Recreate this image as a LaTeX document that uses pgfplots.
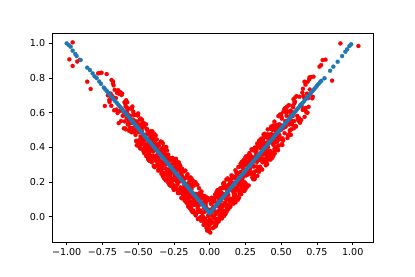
\documentclass[border=0pt]{standalone}
\usepackage{pgfplots}
\pgfplotsset{compat=1.18}
\usepackage{fontspec}
\setmainfont{DejaVu Sans}
\definecolor{mplblue}{HTML}{1F77B4}
\begin{document}
\begin{tikzpicture}
\path[use as bounding box] (-52bp,-35bp) rectangle (363bp,242bp);
\begin{axis}[
  at={(0,0)}, anchor=south west,
  scale only axis, width=321bp, height=209bp,
  xmin=-1.1025, xmax=1.142, ymin=-0.146, ymax=1.06,
  axis line style={line width=0.77bp, black},
  tick style={line width=0.77bp, black},
  tick align=outside, tick pos=left,
  major tick length=3.36bp,
  xtick={-1,-0.75,-0.5,-0.25,0,0.25,0.5,0.75,1},
  xticklabels={−1.00,−0.75,−0.50,−0.25,0.00,0.25,0.50,0.75,1.00},
  ytick={0,0.2,0.4,0.6,0.8,1.0},
  yticklabels={0.0,0.2,0.4,0.6,0.8,1.0},
  every tick label/.append style={font=\fontsize{9.6}{11}\selectfont},
]
\addplot[only marks, mark=*, mark size=2.05bp, red, mark options={line width=0.2bp}] coordinates {
(-0.700,0.662) (-0.696,0.678) (-0.692,0.710) (-0.688,0.640) (-0.684,0.690) (-0.680,0.696) (-0.676,0.770) (-0.672,0.758) (-0.668,0.614) (-0.664,0.732) (-0.660,0.684) (-0.656,0.684) (-0.652,0.618) (-0.648,0.714) (-0.644,0.598) (-0.640,0.730) (-0.636,0.540) (-0.632,0.708) (-0.628,0.610) (-0.624,0.718) (-0.620,0.552) (-0.616,0.702) (-0.612,0.710) (-0.608,0.582) (-0.604,0.606) (-0.600,0.510) (-0.596,0.660) (-0.592,0.510) (-0.588,0.636) (-0.584,0.672) (-0.580,0.570) (-0.576,0.660) (-0.572,0.532) (-0.568,0.624) (-0.564,0.496) (-0.560,0.540) (-0.556,0.580) (-0.552,0.624) (-0.548,0.488) (-0.544,0.622) (-0.540,0.636) (-0.536,0.560) (-0.532,0.592) (-0.528,0.496) (-0.524,0.588) (-0.520,0.526) (-0.516,0.500) (-0.512,0.434) (-0.508,0.548) (-0.504,0.538) (-0.500,0.596)
(-0.4975,0.4395) (-0.495,0.491) (-0.4925,0.4085) (-0.490,0.520) (-0.4875,0.4135) (-0.485,0.441) (-0.4825,0.4285) (-0.480,0.392) (-0.4775,0.5055) (-0.475,0.515) (-0.4725,0.5585) (-0.470,0.538) (-0.4675,0.4595) (-0.465,0.383) (-0.4625,0.4725) (-0.460,0.370) (-0.4575,0.5215) (-0.455,0.401) (-0.4525,0.3865) (-0.450,0.400) (-0.4475,0.4175) (-0.445,0.533) (-0.4425,0.3585) (-0.440,0.364) (-0.4375,0.5055) (-0.435,0.497) (-0.4325,0.3545) (-0.430,0.478) (-0.4275,0.4275) (-0.425,0.381) (-0.4225,0.4045) (-0.420,0.324) (-0.4175,0.4575) (-0.415,0.353) (-0.4125,0.3885) (-0.410,0.414) (-0.4075,0.3295) (-0.405,0.315) (-0.4025,0.4125) (-0.400,0.492) (-0.3975,0.3855) (-0.395,0.419) (-0.3925,0.3505) (-0.390,0.386) (-0.3875,0.4775) (-0.385,0.383) (-0.3825,0.2885) (-0.380,0.442) (-0.3775,0.4695)
(-0.375,0.413) (-0.3725,0.3905) (-0.370,0.352) (-0.3675,0.4155) (-0.365,0.359) (-0.3625,0.3465) (-0.360,0.266) (-0.3575,0.2715) (-0.355,0.409) (-0.3525,0.2845) (-0.350,0.326) (-0.3475,0.3195) (-0.345,0.379) (-0.3425,0.2765) (-0.340,0.386) (-0.3375,0.2475) (-0.335,0.431) (-0.3325,0.2565) (-0.330,0.348) (-0.3275,0.2335) (-0.325,0.393) (-0.3225,0.2365) (-0.320,0.222) (-0.3175,0.3435) (-0.315,0.313) (-0.3125,0.4025) (-0.310,0.246) (-0.3075,0.3895) (-0.305,0.257) (-0.3025,0.2145) (-0.300,0.310) (-0.2975,0.2135) (-0.295,0.335) (-0.2925,0.2365) (-0.290,0.358) (-0.2875,0.3075) (-0.285,0.261) (-0.2825,0.2105) (-0.280,0.340) (-0.2775,0.1995) (-0.275,0.179) (-0.2725,0.2485) (-0.270,0.210) (-0.2675,0.2995) (-0.265,0.201) (-0.2625,0.2565) (-0.260,0.276) (-0.2575,0.3355) (-0.255,0.215) (-0.2525,0.2185) (-0.250,0.154) (-0.2475,0.3055) (-0.245,0.249) (-0.2425,0.3265) (-0.240,0.210) (-0.2375,0.3115) (-0.235,0.279) (-0.2325,0.2865) (-0.230,0.318) (-0.2275,0.1995) (-0.225,0.185) (-0.2225,0.1365) (-0.220,0.152) (-0.2175,0.2255) (-0.215,0.297) (-0.2125,0.2025) (-0.210,0.300) (-0.2075,0.1435) (-0.205,0.259) (-0.2025,0.2685) (-0.200,0.250) (-0.1975,0.2275) (-0.195,0.107) (-0.1925,0.2765) (-0.190,0.266) (-0.1875,0.1195) (-0.185,0.123) (-0.1825,0.2605) (-0.180,0.132) (-0.1775,0.1775) (-0.175,0.219) (-0.1725,0.1905) (-0.170,0.266) (-0.1675,0.1275) (-0.165,0.227) (-0.1625,0.1865) (-0.160,0.156) (-0.1575,0.2355) (-0.155,0.245) (-0.1525,0.1425) (-0.150,0.058) (-0.1475,0.1595) (-0.145,0.121) (-0.1425,0.1845) (-0.140,0.144) (-0.1375,0.0475) (-0.135,0.137) (-0.1325,0.2265) (-0.130,0.068) (-0.1275,0.0355)
(-0.125,0.217) (-0.1225,0.1845) (-0.120,0.026) (-0.1175,0.1155) (-0.115,0.205) (-0.1125,0.1085) (-0.110,0.068) (-0.1075,0.1315) (-0.105,0.093) (-0.1025,0.1945) (-0.100,0.110) (-0.0975,0.0075) (-0.095,0.017) (-0.0925,0.0965) (-0.090,0.066) (-0.0875,0.0255) (-0.085,0.125) (-0.0825,-0.0135) (-0.080,0.062) (-0.0775,0.0335) (-0.075,0.075) (-0.0725,0.1205) (-0.070,-0.008) (-0.0675,0.1295) (-0.065,0.133) (-0.0625,-0.0135) (-0.060,-0.024) (-0.0575,0.1455) (-0.055,0.025) (-0.0525,0.0025) (-0.050,-0.016) (-0.0475,-0.0065) (-0.045,0.109) (-0.0425,-0.0475) (-0.040,0.050) (-0.0375,-0.0445) (-0.035,0.027) (-0.0325,0.1005) (-0.030,0.116) (-0.0275,0.0675) (-0.025,0.053) (-0.0225,-0.0655) (-0.020,-0.034) (-0.0175,-0.0265) (-0.015,-0.059) (-0.0125,0.0425) (-0.010,-0.074) (-0.0075,0.0035) (-0.005,-0.053) (-0.0025,0.0985)
(0.000,-0.038) (0.0025,-0.0155) (0.005,0.023) (0.0075,-0.0405) (0.010,0.016) (0.0125,0.0285) (0.015,0.109) (0.0175,0.1035) (0.020,-0.034) (0.0225,0.0905) (0.025,0.049) (0.0275,0.0555) (0.030,-0.004) (0.0325,0.0985) (0.035,-0.011) (0.0375,0.1275) (0.040,-0.056) (0.0425,0.1185) (0.045,0.027) (0.0475,0.1415) (0.050,-0.018) (0.0525,0.1385) (0.055,0.153) (0.0575,0.0315) (0.060,0.062) (0.0625,-0.0275) (0.065,0.129) (0.0675,-0.0145) (0.070,0.118) (0.0725,0.1605) (0.075,0.065) (0.0775,0.1615) (0.080,0.040) (0.0825,0.1385) (0.085,0.017) (0.0875,0.0675) (0.090,0.114) (0.0925,0.1645) (0.095,0.035) (0.0975,0.1755) (0.100,0.196) (0.1025,0.1265) (0.105,0.165) (0.1075,0.0755) (0.110,0.174) (0.1125,0.1185) (0.115,0.099) (0.1175,0.0395) (0.120,0.160) (0.1225,0.1565)
(0.125,0.221) (0.1275,0.0695) (0.130,0.126) (0.1325,0.0485) (0.135,0.165) (0.1375,0.0635) (0.140,0.096) (0.1425,0.0885) (0.145,0.057) (0.1475,0.1755) (0.150,0.190) (0.1525,0.2385) (0.155,0.223) (0.1575,0.1495) (0.160,0.078) (0.1625,0.1725) (0.165,0.075) (0.1675,0.2315) (0.170,0.116) (0.1725,0.1065) (0.175,0.125) (0.1775,0.1475) (0.180,0.268) (0.1825,0.0985) (0.185,0.109) (0.1875,0.2555) (0.190,0.252) (0.1925,0.1145) (0.195,0.243) (0.1975,0.1975) (0.200,0.156) (0.2025,0.1845) (0.205,0.109) (0.2075,0.2475) (0.210,0.148) (0.2125,0.1885) (0.215,0.219) (0.2175,0.1395) (0.220,0.130) (0.2225,0.2325) (0.225,0.317) (0.2275,0.2155) (0.230,0.254) (0.2325,0.1905) (0.235,0.231) (0.2375,0.3275) (0.240,0.238) (0.2425,0.1485) (0.245,0.307) (0.2475,0.3395)
(0.250,0.158) (0.2525,0.1905) (0.255,0.349) (0.2575,0.2595) (0.260,0.170) (0.2625,0.2665) (0.265,0.307) (0.2675,0.2435) (0.270,0.282) (0.2725,0.1805) (0.275,0.265) (0.2775,0.3675) (0.280,0.358) (0.2825,0.2785) (0.285,0.309) (0.2875,0.3495) (0.290,0.250) (0.2925,0.3885) (0.295,0.313) (0.2975,0.3415) (0.300,0.300) (0.3025,0.2545) (0.305,0.383) (0.3075,0.2455) (0.310,0.242) (0.3125,0.3885) (0.315,0.399) (0.3175,0.2295) (0.320,0.350) (0.3225,0.3725) (0.325,0.391) (0.3275,0.3815) (0.330,0.266) (0.3325,0.4225) (0.335,0.325) (0.3375,0.4195) (0.340,0.348) (0.3425,0.2745) (0.345,0.259) (0.3475,0.4355) (0.350,0.404) (0.3525,0.3965) (0.355,0.429) (0.3575,0.3275) (0.360,0.444) (0.3625,0.3665) (0.365,0.423) (0.3675,0.2715) (0.370,0.336) (0.3725,0.3325)
(0.375,0.453) (0.3775,0.3615) (0.380,0.374) (0.3825,0.3185) (0.385,0.417) (0.3875,0.3275) (0.390,0.366) (0.3925,0.2965) (0.395,0.317) (0.3975,0.4575) (0.400,0.328) (0.4025,0.3785) (0.405,0.425) (0.4075,0.4755) (0.410,0.354) (0.4125,0.4525) (0.415,0.331) (0.4175,0.4275) (0.420,0.332) (0.4225,0.3745) (0.425,0.507) (0.4275,0.3635) (0.430,0.520) (0.4325,0.4305) (0.435,0.461) (0.4375,0.3395) (0.440,0.354) (0.4425,0.5105) (0.445,0.351) (0.4475,0.4655) (0.450,0.374) (0.4525,0.5485) (0.455,0.365) (0.4575,0.5035) (0.460,0.394) (0.4625,0.4965) (0.465,0.437) (0.4675,0.4435) (0.470,0.402) (0.4725,0.5265) (0.475,0.389) (0.4775,0.3835) (0.480,0.464) (0.4825,0.4765) (0.485,0.533) (0.4875,0.4695) (0.490,0.508) (0.4925,0.5305) (0.495,0.513) (0.4975,0.4495)
(0.500,0.592) (0.504,0.566) (0.508,0.414) (0.512,0.510) (0.516,0.606) (0.520,0.516) (0.524,0.482) (0.528,0.552) (0.532,0.520) (0.536,0.628) (0.540,0.550) (0.544,0.454) (0.548,0.470) (0.552,0.556) (0.556,0.532) (0.560,0.498) (0.564,0.604) (0.568,0.472) (0.572,0.554) (0.576,0.532) (0.580,0.580) (0.584,0.632) (0.588,0.510) (0.592,0.654) (0.596,0.664) (0.600,0.524) (0.604,0.520) (0.608,0.696) (0.612,0.582) (0.616,0.566) (0.620,0.554) (0.624,0.570) (0.628,0.692) (0.632,0.542) (0.636,0.646) (0.640,0.558) (0.644,0.636) (0.648,0.716) (0.652,0.738) (0.656,0.696) (0.660,0.688) (0.664,0.576) (0.668,0.614) (0.672,0.628) (0.676,0.602) (0.680,0.710) (0.684,0.600) (0.688,0.684) (0.692,0.634) (0.696,0.792) (0.700,0.734)
(-0.958,1.006) (-0.981,0.908) (-0.958,0.870) (-0.926,0.895) (-0.908,0.905) (-0.856,0.779) (-0.832,0.737) (-0.780,0.827) (-0.768,0.829) (-0.756,0.831) (-0.720,0.823) (-0.686,0.789) (-0.676,0.780) (-0.733,0.639) (-0.702,0.673) (-0.712,0.700)
(0.914,1.000) (1.040,0.985) (0.856,0.785) (0.810,0.906) (0.790,0.904) (0.779,0.875) (0.768,0.866) (0.726,0.808) (0.710,0.806) (0.698,0.804) (0.686,0.779) (0.670,0.762) (0.663,0.779) (0.721,0.692) (0.717,0.683) (0.651,0.616)
};
\addplot[only marks, mark=*, mark size=2.05bp, red, mark options={line width=0.2bp}] coordinates {
(-0.598,0.586) (-0.594,0.550) (-0.590,0.652) (-0.586,0.504) (-0.582,0.632) (-0.578,0.610) (-0.574,0.592) (-0.570,0.536) (-0.566,0.554) (-0.562,0.584) (-0.558,0.514) (-0.554,0.548) (-0.550,0.562) (-0.546,0.542) (-0.542,0.488) (-0.538,0.512) (-0.534,0.606) (-0.530,0.586) (-0.526,0.488) (-0.522,0.552) (-0.518,0.472) (-0.514,0.438) (-0.510,0.412) (-0.506,0.586) (-0.502,0.584) (-0.498,0.488) (-0.494,0.522) (-0.490,0.560) (-0.486,0.518) (-0.482,0.566) (-0.478,0.446) (-0.474,0.494) (-0.470,0.438) (-0.466,0.538) (-0.462,0.382) (-0.458,0.448) (-0.454,0.440) (-0.450,0.402) (-0.446,0.474) (-0.442,0.506) (-0.438,0.364) (-0.434,0.412) (-0.430,0.402) (-0.426,0.340) (-0.422,0.374) (-0.418,0.322) (-0.414,0.412) (-0.410,0.338) (-0.406,0.330) (-0.402,0.448)
(-0.398,0.442) (-0.394,0.384) (-0.390,0.464) (-0.386,0.286) (-0.382,0.414) (-0.378,0.340) (-0.374,0.384) (-0.370,0.446) (-0.366,0.300) (-0.362,0.358) (-0.358,0.420) (-0.354,0.358) (-0.350,0.268) (-0.346,0.286) (-0.342,0.434) (-0.338,0.294) (-0.334,0.292) (-0.330,0.280) (-0.326,0.306) (-0.322,0.404) (-0.318,0.360) (-0.314,0.320) (-0.310,0.338) (-0.306,0.278) (-0.302,0.358) (-0.298,0.382) (-0.294,0.312) (-0.290,0.196) (-0.286,0.306) (-0.282,0.184) (-0.278,0.204) (-0.274,0.234) (-0.270,0.276) (-0.266,0.176) (-0.262,0.258) (-0.258,0.322) (-0.254,0.162) (-0.250,0.282) (-0.246,0.250) (-0.242,0.168) (-0.238,0.306) (-0.234,0.162) (-0.230,0.268) (-0.226,0.228) (-0.222,0.310) (-0.218,0.148) (-0.214,0.136) (-0.210,0.230) (-0.206,0.294) (-0.202,0.168)
(-0.198,0.108) (-0.194,0.238) (-0.190,0.230) (-0.186,0.158) (-0.182,0.196) (-0.178,0.196) (-0.174,0.192) (-0.170,0.108) (-0.166,0.172) (-0.162,0.080) (-0.158,0.100) (-0.154,0.226) (-0.150,0.072) (-0.146,0.192) (-0.142,0.204) (-0.138,0.224) (-0.134,0.086) (-0.130,0.052) (-0.126,0.184) (-0.122,0.084) (-0.118,0.028) (-0.114,0.036) (-0.110,0.180) (-0.106,0.102) (-0.102,0.016) (-0.098,0.086) (-0.094,0.118) (-0.090,0.064) (-0.086,0.184) (-0.082,0.106) (-0.078,0.126) (-0.074,0.164) (-0.070,0.104) (-0.066,0.036) (-0.062,-0.002) (-0.058,0.128) (-0.054,0.104) (-0.050,0.004) (-0.046,-0.006) (-0.042,0.120) (-0.038,-0.038) (-0.034,-0.012) (-0.030,0.116) (-0.026,0.088) (-0.022,0.088) (-0.018,-0.080) (-0.014,-0.048) (-0.010,0.008) (-0.006,-0.070) (-0.002,0.098)
(0.002,-0.032) (0.006,0.040) (0.010,-0.024) (0.014,0.038) (0.018,0.006) (0.022,-0.066) (0.026,0.038) (0.030,0.058) (0.034,-0.006) (0.038,0.110) (0.042,-0.054) (0.046,-0.028) (0.050,0.138) (0.054,0.142) (0.058,0.084) (0.062,0.152) (0.066,0.010) (0.070,0.064) (0.074,0.048) (0.078,0.016) (0.082,-0.004) (0.086,-0.010) (0.090,0.024) (0.094,0.190) (0.098,0.118) (0.102,0.190) (0.106,0.080) (0.110,0.014) (0.114,0.168) (0.118,0.028) (0.122,0.100) (0.126,0.068) (0.130,0.172) (0.134,0.186) (0.138,0.096) (0.142,0.104) (0.146,0.198) (0.150,0.200) (0.154,0.100) (0.158,0.226) (0.162,0.196) (0.166,0.162) (0.170,0.106) (0.174,0.166) (0.178,0.230) (0.182,0.220) (0.186,0.166) (0.190,0.192) (0.194,0.158) (0.198,0.098)
(0.202,0.112) (0.206,0.242) (0.210,0.134) (0.214,0.256) (0.218,0.208) (0.222,0.174) (0.226,0.196) (0.230,0.250) (0.234,0.298) (0.238,0.292) (0.242,0.312) (0.246,0.300) (0.250,0.176) (0.254,0.238) (0.258,0.308) (0.262,0.316) (0.266,0.344) (0.270,0.290) (0.274,0.356) (0.278,0.324) (0.282,0.308) (0.286,0.328) (0.290,0.346) (0.294,0.338) (0.298,0.226) (0.302,0.338) (0.306,0.294) (0.310,0.228) (0.314,0.216) (0.318,0.262) (0.322,0.320) (0.326,0.332) (0.330,0.316) (0.334,0.236) (0.338,0.330) (0.342,0.350) (0.346,0.436) (0.350,0.420) (0.354,0.328) (0.358,0.278) (0.362,0.362) (0.366,0.424) (0.370,0.314) (0.374,0.432) (0.378,0.414) (0.382,0.466) (0.386,0.402) (0.390,0.474) (0.394,0.364) (0.398,0.382)
(0.402,0.304) (0.406,0.504) (0.410,0.422) (0.414,0.336) (0.418,0.360) (0.422,0.380) (0.426,0.330) (0.430,0.368) (0.434,0.454) (0.438,0.510) (0.442,0.422) (0.446,0.414) (0.450,0.432) (0.454,0.516) (0.458,0.476) (0.462,0.524) (0.466,0.438) (0.470,0.428) (0.474,0.528) (0.478,0.472) (0.482,0.524) (0.486,0.446) (0.490,0.588) (0.494,0.514) (0.498,0.500) (0.502,0.576) (0.506,0.420) (0.510,0.452) (0.514,0.440) (0.518,0.516) (0.522,0.620) (0.526,0.624) (0.530,0.628) (0.534,0.600) (0.538,0.582) (0.542,0.636) (0.546,0.606) (0.550,0.548) (0.554,0.644) (0.558,0.478) (0.562,0.580) (0.566,0.612) (0.570,0.504) (0.574,0.538) (0.578,0.640) (0.582,0.602) (0.586,0.678) (0.590,0.552) (0.594,0.664) (0.598,0.688)
};
\addplot[only marks, mark=*, mark size=2.05bp, red, mark options={line width=0.2bp}] coordinates {
(-0.4995,0.4095) (-0.4955,0.4255) (-0.4915,0.5295) (-0.4875,0.3955) (-0.4835,0.4635) (-0.4795,0.4175) (-0.4755,0.5115) (-0.4715,0.5375) (-0.4675,0.4215) (-0.4635,0.4455) (-0.4595,0.5395) (-0.4555,0.3655) (-0.4515,0.4535) (-0.4475,0.3875) (-0.4435,0.3495) (-0.4395,0.3955) (-0.4355,0.3695) (-0.4315,0.3335) (-0.4275,0.3295) (-0.4235,0.3255) (-0.4195,0.4215) (-0.4155,0.4895) (-0.4115,0.4695) (-0.4075,0.4935) (-0.4035,0.3295) (-0.3995,0.3975) (-0.3955,0.3755) (-0.3915,0.2935) (-0.3875,0.4275) (-0.3835,0.3415) (-0.3795,0.3855) (-0.3755,0.3215) (-0.3715,0.4135) (-0.3675,0.3955) (-0.3635,0.3015) (-0.3595,0.3415) (-0.3555,0.2935) (-0.3515,0.3695) (-0.3475,0.3795) (-0.3435,0.3635) (-0.3395,0.2675) (-0.3355,0.3155) (-0.3315,0.3935) (-0.3275,0.4235) (-0.3235,0.3655) (-0.3195,0.3775) (-0.3155,0.3935) (-0.3115,0.2995) (-0.3075,0.2095) (-0.3035,0.4015)
(-0.2995,0.3155) (-0.2955,0.3255) (-0.2915,0.2075) (-0.2875,0.2715) (-0.2835,0.1995) (-0.2795,0.2435) (-0.2755,0.2175) (-0.2715,0.3275) (-0.2675,0.2095) (-0.2635,0.2635) (-0.2595,0.3395) (-0.2555,0.2815) (-0.2515,0.1815) (-0.2475,0.1575) (-0.2435,0.2355) (-0.2395,0.2475) (-0.2355,0.3335) (-0.2315,0.2455) (-0.2275,0.2215) (-0.2235,0.2255) (-0.2195,0.2755) (-0.2155,0.3135) (-0.2115,0.2935) (-0.2075,0.2195) (-0.2035,0.1675) (-0.1995,0.2715) (-0.1955,0.1515) (-0.1915,0.1355) (-0.1875,0.1455) (-0.1835,0.1575) (-0.1795,0.1335) (-0.1755,0.0935) (-0.1715,0.1515) (-0.1675,0.0895) (-0.1635,0.1095) (-0.1595,0.1095) (-0.1555,0.1715) (-0.1515,0.2255) (-0.1475,0.0935) (-0.1435,0.0735) (-0.1395,0.0855) (-0.1355,0.0715) (-0.1315,0.1115) (-0.1275,0.1575) (-0.1235,0.1715) (-0.1195,0.1095) (-0.1155,0.0735) (-0.1115,0.1875) (-0.1075,0.0715) (-0.1035,0.1935)
(-0.0995,0.1995) (-0.0955,0.1315) (-0.0915,0.0895) (-0.0875,0.1075) (-0.0835,0.0455) (-0.0795,0.0275) (-0.0755,0.0835) (-0.0715,0.1355) (-0.0675,0.0715) (-0.0635,0.0295) (-0.0595,-0.0085) (-0.0555,0.1095) (-0.0515,0.0015) (-0.0475,-0.0045) (-0.0435,0.0815) (-0.0395,0.0815) (-0.0355,-0.0165) (-0.0315,-0.0105) (-0.0275,0.0855) (-0.0235,0.0455) (-0.0195,0.1095) (-0.0155,-0.0385) (-0.0115,0.1075) (-0.0075,0.0335) (-0.0035,-0.0845) (0.0005,-0.0195) (0.0045,-0.0915) (0.0085,0.0745) (0.0125,0.1085) (0.0165,0.1025) (0.0205,0.0825) (0.0245,0.0505) (0.0285,0.0345) (0.0325,0.0885) (0.0365,-0.0535) (0.0405,0.0145) (0.0445,-0.0435) (0.0485,-0.0395) (0.0525,0.1265) (0.0565,0.1525) (0.0605,-0.0115) (0.0645,0.1045) (0.0685,0.0405) (0.0725,0.0605) (0.0765,0.1645) (0.0805,0.0925) (0.0845,0.0605) (0.0885,0.1225) (0.0925,0.0585) (0.0965,0.1305)
(0.1005,0.0045) (0.1045,0.1805) (0.1085,0.1105) (0.1125,0.1745) (0.1165,0.2145) (0.1205,0.0545) (0.1245,0.0625) (0.1285,0.0425) (0.1325,0.1785) (0.1365,0.2125) (0.1405,0.0625) (0.1445,0.1965) (0.1485,0.1945) (0.1525,0.1025) (0.1565,0.0865) (0.1605,0.2245) (0.1645,0.1945) (0.1685,0.1345) (0.1725,0.0825) (0.1765,0.1285) (0.1805,0.0825) (0.1845,0.1605) (0.1885,0.2145) (0.1925,0.1685) (0.1965,0.2085) (0.2005,0.2865) (0.2045,0.2085) (0.2085,0.1385) (0.2125,0.2905) (0.2165,0.3065) (0.2205,0.2585) (0.2245,0.1665) (0.2285,0.3065) (0.2325,0.2805) (0.2365,0.1505) (0.2405,0.1785) (0.2445,0.1985) (0.2485,0.3265) (0.2525,0.1805) (0.2565,0.3145) (0.2605,0.3425) (0.2645,0.2585) (0.2685,0.2505) (0.2725,0.2545) (0.2765,0.3385) (0.2805,0.2665) (0.2845,0.3125) (0.2885,0.2485) (0.2925,0.2485) (0.2965,0.3865)
(0.3005,0.3345) (0.3045,0.2165) (0.3085,0.2885) (0.3125,0.3905) (0.3165,0.3865) (0.3205,0.2325) (0.3245,0.3225) (0.3285,0.2905) (0.3325,0.4045) (0.3365,0.2685) (0.3405,0.4145) (0.3445,0.3405) (0.3485,0.4405) (0.3525,0.2885) (0.3565,0.3605) (0.3605,0.4505) (0.3645,0.3585) (0.3685,0.4085) (0.3725,0.4465) (0.3765,0.4745) (0.3805,0.3605) (0.3845,0.4785) (0.3885,0.3705) (0.3925,0.3085) (0.3965,0.3405) (0.4005,0.4285) (0.4045,0.3765) (0.4085,0.4025) (0.4125,0.3705) (0.4165,0.3345) (0.4205,0.4405) (0.4245,0.4745) (0.4285,0.4705) (0.4325,0.4765) (0.4365,0.3445) (0.4405,0.5005) (0.4445,0.5265) (0.4485,0.4445) (0.4525,0.3905) (0.4565,0.4605) (0.4605,0.5265) (0.4645,0.3885) (0.4685,0.4585) (0.4725,0.5105) (0.4765,0.4445) (0.4805,0.5805) (0.4845,0.4105) (0.4885,0.4985) (0.4925,0.4485) (0.4965,0.4505)
};
\addplot[only marks, mark=*, mark size=2.05bp, mplblue, mark options={line width=0.2bp}] coordinates {
(-1.000,1.000) (-0.984,0.990) (-0.972,0.981) (-0.958,0.958) (-0.940,0.939) (-0.930,0.927) (-0.902,0.904) (-0.856,0.860) (-0.837,0.846) (-0.818,0.827) (-0.805,0.810) (-0.790,0.800) (-0.772,0.780) (-0.760,0.766)
(-0.74,0.745) (-0.73,0.735) (-0.72,0.726) (-0.71,0.716) (-0.70,0.706) (-0.69,0.696) (-0.68,0.686) (-0.67,0.677) (-0.66,0.667) (-0.65,0.657) (-0.64,0.647) (-0.63,0.637) (-0.62,0.628) (-0.61,0.618) (-0.60,0.608) (-0.59,0.598) (-0.58,0.588) (-0.57,0.579) (-0.56,0.569) (-0.55,0.559) (-0.54,0.549) (-0.53,0.539) (-0.52,0.530) (-0.51,0.520) (-0.50,0.510) (-0.49,0.500) (-0.48,0.490) (-0.47,0.481) (-0.46,0.471) (-0.45,0.461) (-0.44,0.451) (-0.43,0.441) (-0.42,0.432) (-0.41,0.422) (-0.40,0.412) (-0.39,0.402) (-0.38,0.392) (-0.37,0.383) (-0.36,0.373) (-0.35,0.363) (-0.34,0.353) (-0.33,0.343) (-0.32,0.334) (-0.31,0.324) (-0.30,0.314) (-0.29,0.304) (-0.28,0.294) (-0.27,0.285) (-0.26,0.275) (-0.25,0.265) (-0.24,0.255) (-0.23,0.245) (-0.22,0.236) (-0.21,0.226) (-0.20,0.216) (-0.19,0.206) (-0.18,0.196) (-0.17,0.187) (-0.16,0.177) (-0.15,0.167) (-0.14,0.157) (-0.13,0.147) (-0.12,0.138) (-0.11,0.128) (-0.10,0.118) (-0.09,0.108) (-0.08,0.098) (-0.07,0.089) (-0.06,0.079) (-0.05,0.069) (-0.04,0.059) (-0.03,0.049) (-0.02,0.040) (-0.01,0.030)
(0.00,0.020) (0.01,0.030) (0.02,0.040) (0.03,0.049) (0.04,0.059) (0.05,0.069) (0.06,0.079) (0.07,0.089) (0.08,0.098) (0.09,0.108) (0.10,0.118) (0.11,0.128) (0.12,0.138) (0.13,0.147) (0.14,0.157) (0.15,0.167) (0.16,0.177) (0.17,0.187) (0.18,0.196) (0.19,0.206) (0.20,0.216) (0.21,0.226) (0.22,0.236) (0.23,0.245) (0.24,0.255) (0.25,0.265) (0.26,0.275) (0.27,0.285) (0.28,0.294) (0.29,0.304) (0.30,0.314) (0.31,0.324) (0.32,0.334) (0.33,0.343) (0.34,0.353) (0.35,0.363) (0.36,0.373) (0.37,0.383) (0.38,0.392) (0.39,0.402) (0.40,0.412) (0.41,0.422) (0.42,0.432) (0.43,0.441) (0.44,0.451) (0.45,0.461) (0.46,0.471) (0.47,0.481) (0.48,0.490) (0.49,0.500) (0.50,0.510) (0.51,0.520) (0.52,0.530) (0.53,0.539) (0.54,0.549) (0.55,0.559) (0.56,0.569) (0.57,0.579) (0.58,0.588) (0.59,0.598) (0.60,0.608) (0.61,0.618) (0.62,0.628) (0.63,0.637) (0.64,0.647) (0.65,0.657) (0.66,0.667) (0.67,0.677) (0.68,0.686) (0.69,0.696) (0.70,0.706) (0.71,0.716) (0.72,0.726) (0.73,0.735) (0.74,0.745) (0.75,0.755) (0.76,0.765) (0.77,0.775) (0.78,0.784)
(0.803,0.799) (0.842,0.842) (0.865,0.866) (0.895,0.894) (0.926,0.927) (0.949,0.952) (0.961,0.966) (0.977,0.985) (0.989,0.995)
};
\end{axis}
\end{tikzpicture}
\end{document}
